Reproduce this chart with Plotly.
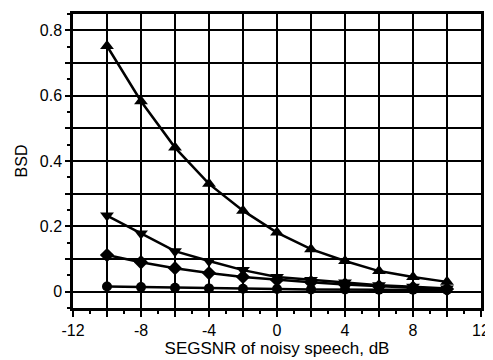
import plotly.graph_objects as go

snr = [-10, -8, -6, -4, -2, 0, 2, 4, 6, 8, 10]
bsd_up = [0.752, 0.583, 0.441, 0.330, 0.248, 0.181, 0.130, 0.094, 0.063, 0.045, 0.030]
bsd_down = [0.233, 0.178, 0.124, 0.094, 0.066, 0.045, 0.036, 0.028, 0.020, 0.015, 0.010]
bsd_diamond = [0.112, 0.090, 0.072, 0.057, 0.045, 0.036, 0.029, 0.022, 0.016, 0.012, 0.008]
bsd_circle = [0.016, 0.014, 0.012, 0.010, 0.009, 0.008, 0.007, 0.007, 0.006, 0.006, 0.005]

x_tickvals = list(range(-12, 13, 2))
x_ticktext = [str(v) if v % 4 == 0 else "" for v in x_tickvals]
y_tickvals = [round(0.1 * i, 1) for i in range(0, 9)]
y_ticktext = ["0" if v == 0 else (f"{v:.1f}" if round(v * 10) % 2 == 0 else "") for v in y_tickvals]

fig = go.Figure()
series = [
    (bsd_up, "triangle-up", 12),
    (bsd_down, "triangle-down", 12),
    (bsd_diamond, "diamond", 11),
    (bsd_circle, "circle", 10),
]
for ys, sym, sz in series:
    fig.add_trace(go.Scatter(
        x=snr, y=ys, mode="lines+markers",
        line=dict(color="black", width=2.5),
        marker=dict(symbol=sym, size=sz, color="black"),
        showlegend=False,
    ))

tick_font = dict(family="Liberation Sans, Arial, sans-serif", size=16, color="black")
xtitle_font = dict(family="Liberation Sans, Arial, sans-serif", size=17, color="black")
ytitle_font = dict(family="Liberation Sans, Arial, sans-serif", size=16, color="black")
fig.update_layout(
    width=485, height=352,
    margin=dict(l=65, r=6, t=3, b=52),
    paper_bgcolor="white", plot_bgcolor="white",
    font=tick_font,
    xaxis=dict(
        range=[-12, 12], tickmode="array", tickvals=x_tickvals, ticktext=x_ticktext,
        showgrid=True, gridcolor="black", gridwidth=1.5,
        showline=True, linecolor="black", linewidth=2.5, mirror=True,
        ticks="outside", ticklen=6, tickwidth=2, tickcolor="black",
        minor=dict(dtick=1, tick0=0, ticks="outside", ticklen=3, tickwidth=2, tickcolor="black", showgrid=False),
        zeroline=False, ticklabeloverflow="allow",
        title=dict(text="SEGSNR of noisy speech, dB", font=xtitle_font, standoff=2),
        tickfont=tick_font,
    ),
    yaxis=dict(
        range=[-0.05, 0.85], tickmode="array", tickvals=y_tickvals, ticktext=y_ticktext,
        showgrid=True, gridcolor="black", gridwidth=1.5,
        showline=True, linecolor="black", linewidth=2.5, mirror=True,
        ticks="outside", ticklen=5, tickwidth=2, tickcolor="black",
        minor=dict(dtick=0.05, tick0=0, ticks="outside", ticklen=3, tickwidth=2, tickcolor="black", showgrid=False),
        zeroline=False, ticklabeloverflow="allow",
        title=dict(text="BSD", font=ytitle_font, standoff=9),
        tickfont=tick_font,
    ),
)

fig.write_html("out.html")
